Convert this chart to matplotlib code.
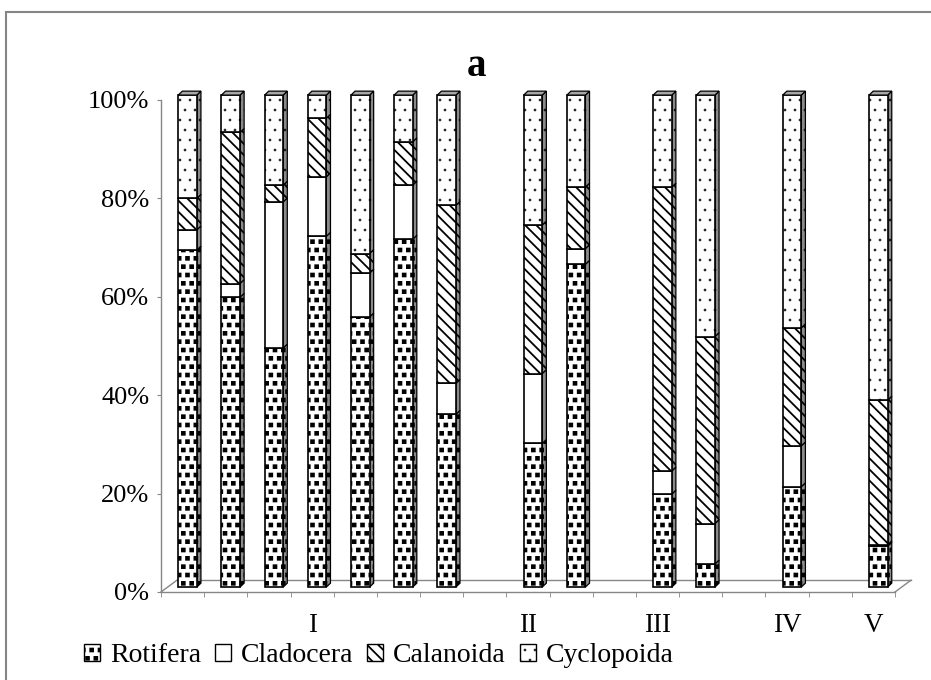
import matplotlib
matplotlib.use('Agg')
import matplotlib.pyplot as plt
import matplotlib.hatch as mhatch
import numpy as np
from matplotlib.patches import Polygon, Rectangle
from matplotlib.path import Path
from matplotlib.ticker import FuncFormatter

plt.rcParams['font.family'] = 'Liberation Serif'
plt.rcParams['hatch.linewidth'] = 1.3

# ---- data (percent of each sample) ----
cat_labels = ['', '', '', 'I', '', '', '', '', 'II', '', '', 'III', '', '', 'IV', '', 'V']
series = ['Rotifera', 'Cladocera', 'Calanoida', 'Cyclopoida']
nan = np.nan
rotifera = [68.5, 58.9, 48.6, 71.3, 54.9, 70.7, 35.1, nan, 29.2, 65.6, nan, 18.9, 4.7, nan, 20.4, nan, 8.3]
cladocera = [4.1, 2.8, 29.7, 12.1, 8.9, 11.0, 6.3, nan, 14.2, 3.2, nan, 4.7, 8.2, nan, 8.3, nan, 0.3]
calanoida = [6.4, 30.7, 3.4, 11.9, 4.0, 8.8, 36.2, nan, 30.2, 12.5, nan, 57.7, 38.0, nan, 24.0, nan, 29.4]
cyclopoida = [21.0, 7.6, 18.3, 4.7, 32.2, 9.5, 22.4, nan, 26.4, 18.7, nan, 18.7, 49.1, nan, 47.3, nan, 62.0]

hatches = ['**', '', '\\\\\\', '..']
GRAY = '#868686'


# small filled squares as a hatch (replaces the star hatch)
class SquareDots(mhatch.Shapes):
    filled = True
    size = 0.34

    def __init__(self, hatch, density):
        self.num_rows = hatch.count('*') * density
        path = Path.unit_rectangle()
        self.shape_vertices = path.vertices - 0.5
        self.shape_codes = path.codes
        super().__init__(hatch, density)


# sparser, finer dots than the default '.' hatch
class FineDots(mhatch.Shapes):
    filled = True
    size = 0.04

    def __init__(self, hatch, density):
        self.num_rows = hatch.count('.') * 5  # keep it even
        path = Path.unit_circle()
        self.shape_vertices = path.vertices
        self.shape_codes = path.codes
        super().__init__(hatch, density)


mhatch._hatch_types = [h for h in mhatch._hatch_types
                       if h not in (mhatch.Stars, mhatch.SmallFilledCircles)] + [SquareDots, FineDots]

# pseudo-3D geometry (data units)
BAR_W = 0.43
BAR_SHIFT = 0.115
BAR_BASE = 1.0
SIDE_DX, SIDE_DY = 0.095, 0.8
FLOOR_DX, FLOOR_DY = 0.37, 2.4

fig = plt.figure(figsize=(9.31, 6.8), dpi=100)
ax = fig.add_axes([161 / 931, 88 / 680, 734 / 931, 492 / 680])

x = np.arange(len(cat_labels))
bottom = np.full(len(x), BAR_BASE)
for name, vals, h in zip(series, [rotifera, cladocera, calanoida, cyclopoida], hatches):
    vals = np.array(vals, dtype=float)
    bars = ax.bar(x + BAR_SHIFT, vals, BAR_W, bottom=bottom, facecolor='white',
                  edgecolor='black', hatch=h, linewidth=1.2, clip_on=False, zorder=3)
    for rect in bars:
        hgt = rect.get_height()
        if np.isnan(hgt) or hgt <= 0:
            continue
        x1 = rect.get_x() + rect.get_width()
        y0 = rect.get_y()
        y1 = y0 + hgt
        side = Polygon([(x1, y0), (x1 + SIDE_DX, y0 + SIDE_DY), (x1 + SIDE_DX, y1 + SIDE_DY), (x1, y1)],
                       closed=True, facecolor='#8a8a8a', edgecolor='black', hatch=h,
                       linewidth=0.9, clip_on=False, zorder=2.9)
        ax.add_patch(side)
    bottom = bottom + np.nan_to_num(vals)

# top faces
for rect in bars:
    if np.isnan(rect.get_height()):
        continue
    x0 = rect.get_x()
    x1 = x0 + rect.get_width()
    top = rect.get_y() + rect.get_height()
    ax.add_patch(Polygon([(x0, top), (x0 + SIDE_DX, top + SIDE_DY), (x1 + SIDE_DX, top + SIDE_DY), (x1, top)],
                         closed=True, facecolor='#a6a6a6', edgecolor='black', linewidth=0.9,
                         clip_on=False, zorder=3.1))

# floor
xl, xr = -0.5, len(x) - 0.5
ax.plot([xl + FLOOR_DX, xr + FLOOR_DX], [FLOOR_DY, FLOOR_DY], color=GRAY, lw=1, clip_on=False, zorder=1)
ax.plot([xl, xl + FLOOR_DX], [0, FLOOR_DY], color=GRAY, lw=1, clip_on=False, zorder=1)
ax.plot([xr, xr + FLOOR_DX], [0, FLOOR_DY], color=GRAY, lw=1, clip_on=False, zorder=1)

ax.set_xlim(xl, xr)
ax.set_ylim(0, 100)
for s in ['top', 'right']:
    ax.spines[s].set_visible(False)
for s in ['left', 'bottom']:
    ax.spines[s].set_color(GRAY)
    ax.spines[s].set_linewidth(1)

ax.set_yticks(np.arange(0, 101, 20))
ax.yaxis.set_major_formatter(FuncFormatter(lambda v, p: f'{v:.0f}%'))
ax.tick_params(axis='y', length=3, color=GRAY, labelsize=19, pad=5.5)

ax.set_xticks(x)
ax.set_xticklabels(cat_labels)
ax.set_xticks(np.arange(xl, xr + 0.01, 1.0), minor=True)
ax.tick_params(axis='x', which='major', length=0, labelsize=19.5, pad=15)
ax.tick_params(axis='x', which='minor', length=3.5, color=GRAY)

# legend
handles = [Rectangle((0, 0), 1, 1, facecolor='white', edgecolor='black', hatch=h, linewidth=1)
           for h in hatches]
fig.legend(handles, series, loc='center left', bbox_to_anchor=(84 / 931, 1 - 656 / 680),
           ncol=4, frameon=False, fontsize=20, handlelength=0.58, handleheight=0.58,
           handletextpad=0.35, columnspacing=0.5, borderpad=0, borderaxespad=0)

fig.text(476 / 931, 1 - 66 / 680, 'a', ha='center', va='center', fontsize=28, fontweight='bold')

# chart-area border
fig.patches.append(Rectangle((5.5 / 931, -0.1), 1.2, 1.1 - 12.5 / 680, transform=fig.transFigure,
                             fill=False, edgecolor=GRAY, linewidth=1.5))

fig.savefig('out.png', dpi=100)
